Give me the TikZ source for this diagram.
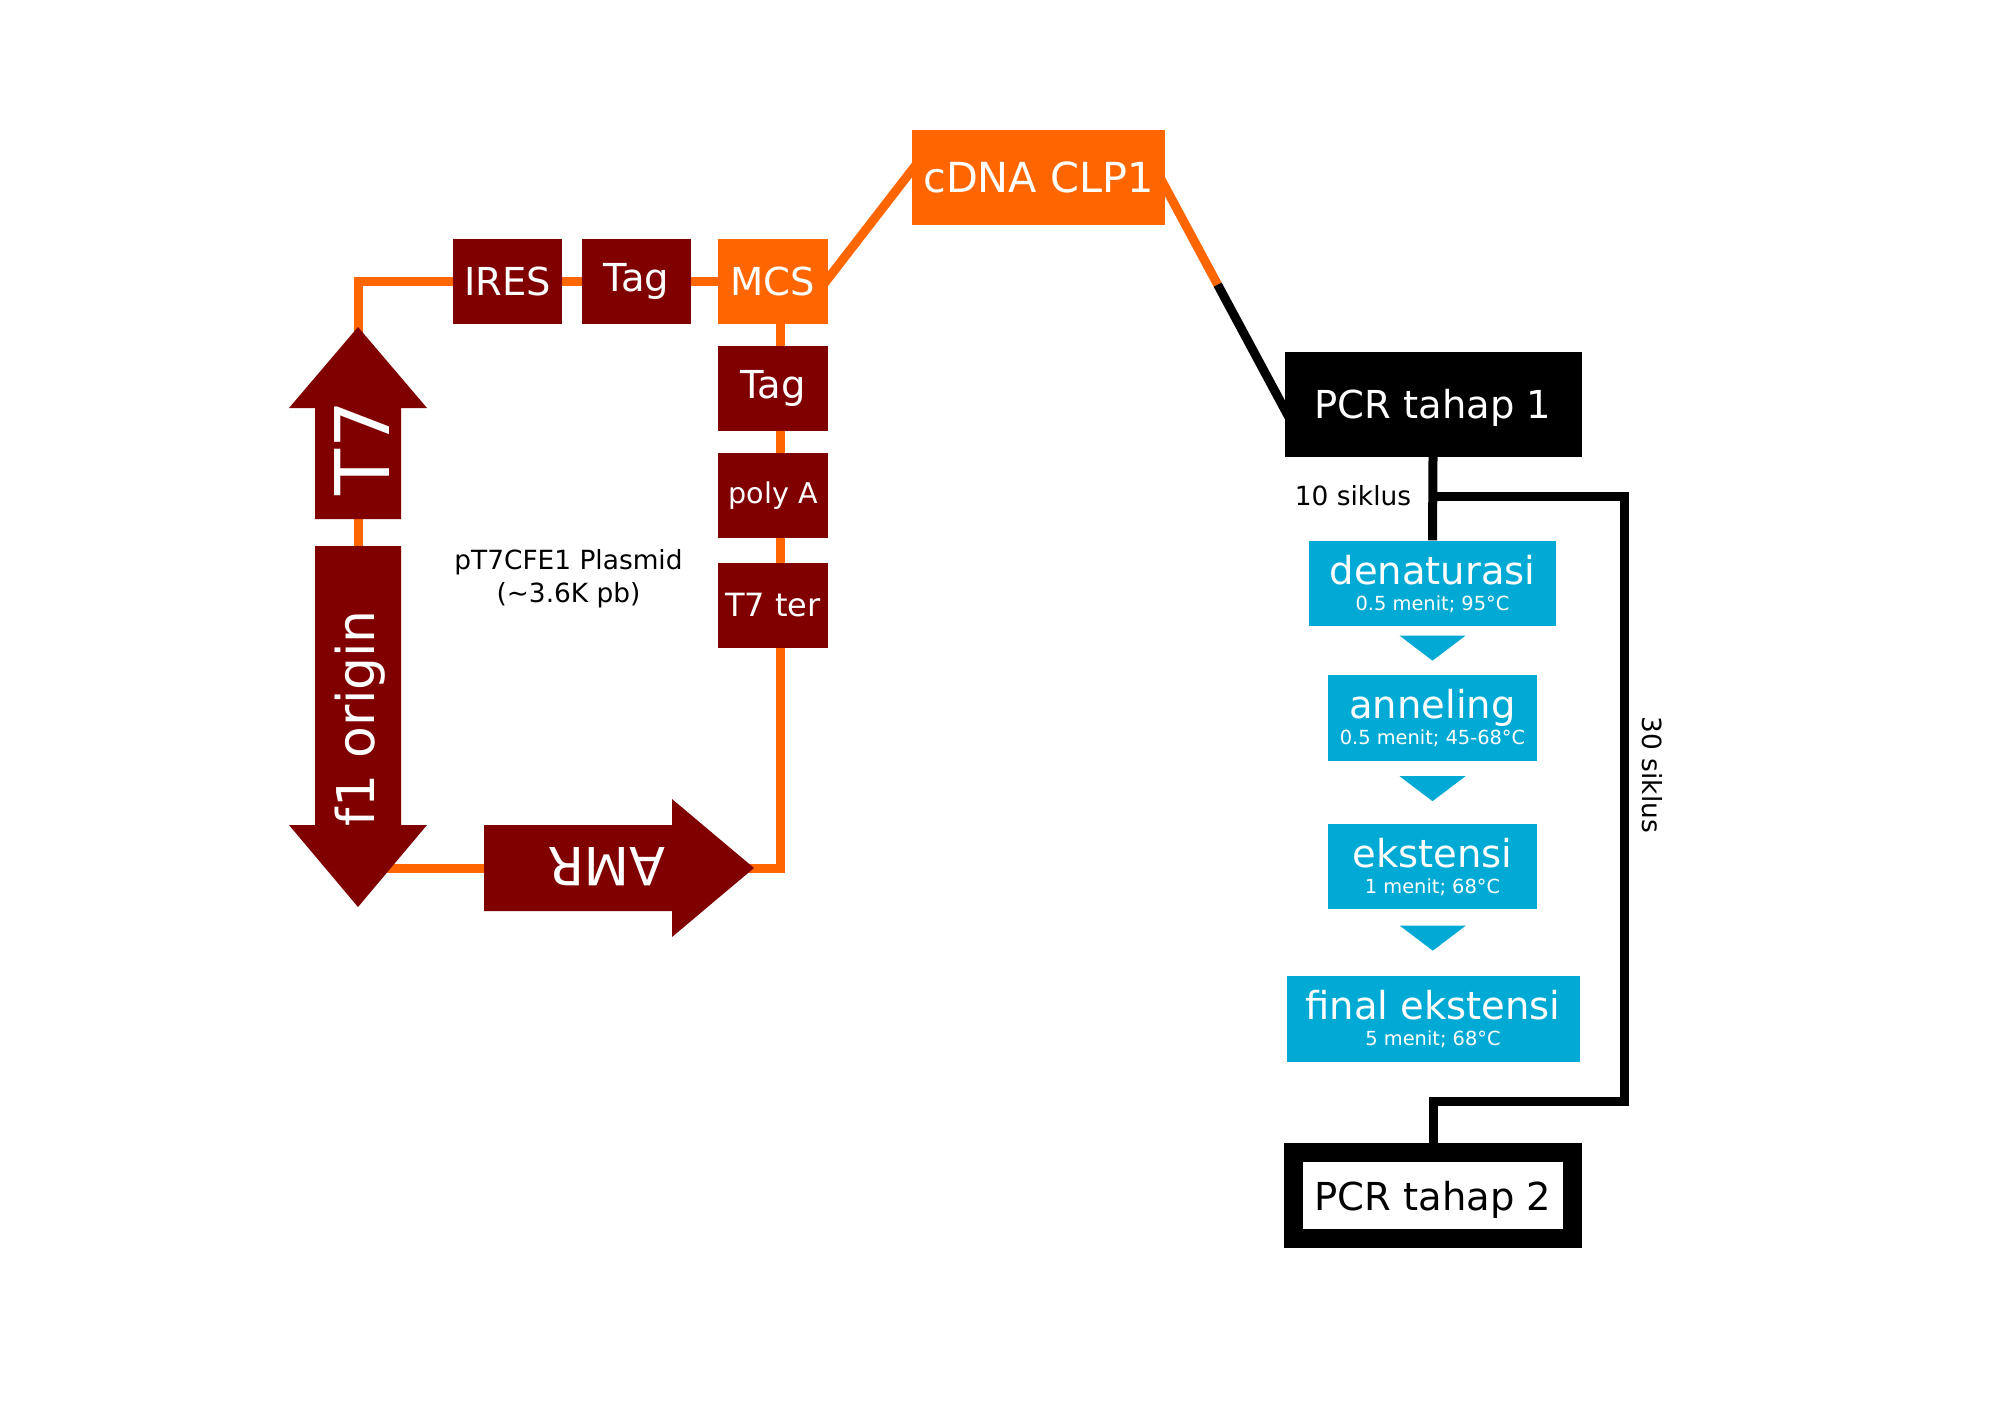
\documentclass[tikz,border=0pt]{standalone}
\usepackage{fontspec}
\setmainfont{DejaVu Sans}
\usetikzlibrary{calc,backgrounds}

\definecolor{plasmidred}{HTML}{800000}
\definecolor{linkorange}{HTML}{FF6600}
\definecolor{stepcyan}{HTML}{00AAD4}

% two line label for the PCR steps
\newcommand\pcrstep[2]{\vbox{\baselineskip=13pt\lineskiplimit=0pt\lineskip=1pt
  \halign{\hfil##\hfil\cr#1\cr\fontsize{9.7}{13}\selectfont#2\cr}}}

\begin{document}
\begin{tikzpicture}[x=0.5pt, y=-0.5pt,
    partbox/.style={fill=plasmidred, text=white, inner sep=0pt,
        minimum width=54.85pt, minimum height=42.75pt,
        font=\fontsize{19.25}{23}\selectfont},
    stepbox/.style={fill=stepcyan, text=white, inner sep=0pt,
        minimum height=42.75pt, font=\fontsize{19.25}{23}\selectfont},
    pcrbox/.style={inner sep=0pt, text depth=0pt,
        font=\fontsize{19.25}{23}\selectfont},
    arrowtext/.style={text=white, inner sep=0pt},
    smalltext/.style={inner sep=0pt, font=\fontsize{13.2}{16.7}\selectfont},
    backbone/.style={draw=linkorange, line width=4.5pt},
    pcrline/.style={draw=black, line width=4.5pt},
    steptip/.style={fill=stepcyan}]

    \useasboundingbox (0,0) rectangle (2000,1414);

    % promoter, origin and resistance arrows
    \coordinate (T7tip) at (358,327);
    \coordinate (f1tip) at (358,907);
    \coordinate (AMRtip) at (754,868);
    \fill[plasmidred] (315,519) -- (315,408) -- (289,408) -- (T7tip)
        -- (427,408) -- (401,408) -- (401,519) -- cycle;
    \fill[plasmidred] (315,546) -- (401,546) -- (401,825) -- (427,825)
        -- (f1tip) -- (289,825) -- (315,825) -- cycle;
    \fill[plasmidred] (484,825) -- (672,825) -- (672,799) -- (AMRtip)
        -- (672,937) -- (672,911) -- (484,911) -- cycle;
    \node[arrowtext, rotate=90, font=\fontsize{37.7}{45}\selectfont] (T7) at (362,448) {T7};
    \node[arrowtext, rotate=90, font=\fontsize{26}{31}\selectfont] (f1) at (360,718) {f1 origin};
    \node[arrowtext, rotate=180, font=\fontsize{26.3}{31}\selectfont] (AMR) at (607,867) {AMR};

    % plasmid parts
    \node[partbox] (IRES) at (507.6,281.3) {IRES};
    \node[partbox] (TagA) at (636.5,281.3) {Tag};
    \node[partbox, fill=linkorange] (MCS) at (773,281.3) {MCS};
    \node[partbox] (TagB) at (773,388.4) {Tag};
    \node[partbox, font=\fontsize{14.3}{17}\selectfont] (polyA) at (773,495.5) {poly A};
    \node[partbox, font=\fontsize{16}{19}\selectfont] (T7ter) at (773,605.3) {T7 ter};
    \node[smalltext, align=center] (plasmid) at (568.5,579) {pT7CFE1 Plasmid\\(\textasciitilde3.6K pb)};

    \node[fill=linkorange, text=white, inner sep=0pt, minimum width=126.5pt,
        minimum height=47.5pt, font=\fontsize{20.7}{25}\selectfont] (cDNA) at (1038.5,177.5) {cDNA CLP1};

    % PCR steps
    \node[pcrbox, fill=black, text=white, minimum width=148.5pt, minimum height=52.3pt]
        (PCR1) at (1433,404.3) {PCR tahap 1};
    \node[stepbox, minimum width=123.6pt] (dena) at (1432.5,583.5)
        {\pcrstep{denaturasi}{0.5 menit; 95°C}};
    \node[stepbox, minimum width=104.5pt] (anne) at (1432.5,717.8)
        {\pcrstep{anneling}{0.5 menit; 45-68°C}};
    \node[stepbox, minimum width=104.5pt] (ekst) at (1432.5,866.5)
        {\pcrstep{ekstensi}{1 menit; 68°C}};
    \node[stepbox, minimum width=146.5pt] (final) at (1433,1018.8)
        {\pcrstep{final ekstensi}{5 menit; 68°C}};
    \node[pcrbox, draw=black, line width=9.5pt, fill=white, minimum width=139.5pt,
        minimum height=43pt] (PCR2) at (1433,1195.8) {PCR tahap 2};

    \fill[steptip] ($(dena.south)!0.5!(anne.north)$) ++(-33,-15) -- ++(66,0) -- ++(-33,25) -- cycle;
    \fill[steptip] ($(anne.south)!0.5!(ekst.north)$) ++(-33,-16) -- ++(66,0) -- ++(-33,25) -- cycle;
    \fill[steptip] ($(ekst.south)!0.5!(final.north)$) ++(-33,-17) -- ++(66,0) -- ++(-33,25) -- cycle;

    \node[smalltext] (cyc10) at (1353,496) {10 siklus};
    \node[smalltext, rotate=-90] (cyc30) at (1652,775) {30 siklus};

    % connectors under the boxes
    \begin{scope}[on background layer]
        \fill[white] (0,0) rectangle (2000,1414);
        \draw[backbone] (MCS.center) -- (IRES.center) -| (AMRtip -| f1tip) -- (AMRtip)
            -| ([xshift=3.5pt]MCS.center) -- (MCS.center);
        \coordinate (MCSout) at ([yshift=1.5pt]MCS.east);
        \coordinate (cDNAin) at ([yshift=3.5pt]cDNA.west);
        \draw[backbone] ($(MCSout)!-0.1!(cDNAin)$) -- ($(MCSout)!1.1!(cDNAin)$);
        \coordinate (cDNAout) at ([yshift=-5pt]cDNA.east);
        \coordinate (PCRin) at ([yshift=-2pt]PCR1.west);
        \coordinate (switch) at ($(cDNAout)!0.44!(PCRin)$);
        \draw[backbone] ($(cDNAout)!-0.1!(PCRin)$) -- (switch);
        \draw[pcrline] (switch) -- ($(cDNAout)!1.1!(PCRin)$);
        \coordinate (loopstart) at (1433,496);
        \coordinate (loopcorner) at (1624,1101);
        \draw[pcrline] (PCR1.south) -- (dena.north);
        \draw[pcrline] (loopstart) -| (loopcorner) -| (PCR2.north);
    \end{scope}
\end{tikzpicture}
\end{document}
